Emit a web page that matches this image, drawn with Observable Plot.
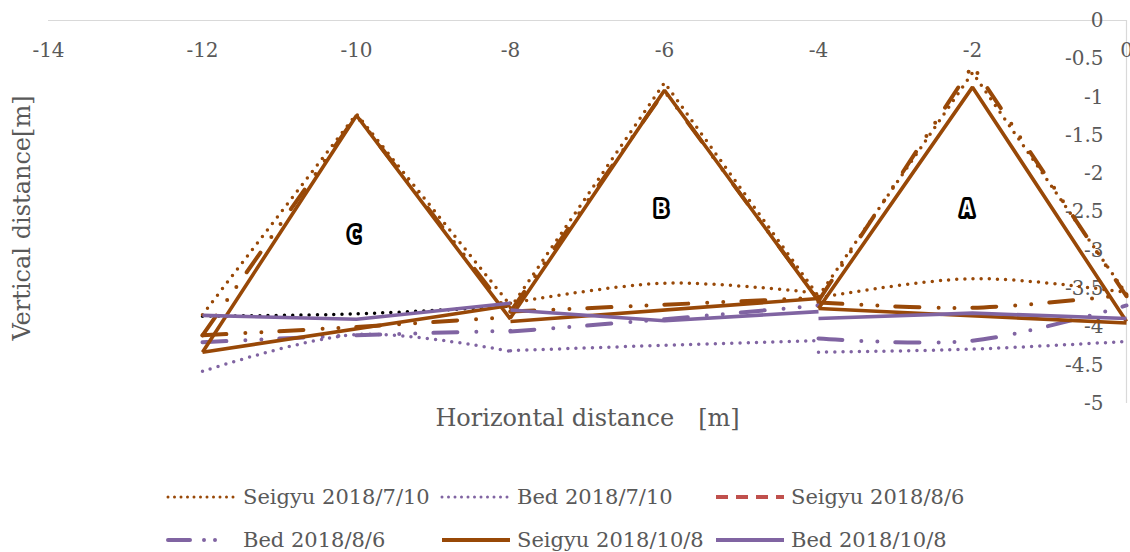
<!DOCTYPE html>
<html><head><meta charset="utf-8">
<script src="https://cdn.jsdelivr.net/npm/d3@7"></script>
<script src="https://cdn.jsdelivr.net/npm/@observablehq/plot@0.6"></script>
<style>
body{margin:0;background:#fff;}
#wrap{position:relative;width:1130px;height:552px;overflow:hidden;background:#fff;}
#chart{position:absolute;left:0;top:0;}
#legend{position:absolute;left:0;top:460px;}
</style></head><body><div id="wrap"><div id="chart"></div><div id="legend"></div></div>
<script>
// ---- tick labels ----
const xTicks = [-14, -12, -10, -8, -6, -4, -2, 0];
const yTicks = [0, -0.5, -1, -1.5, -2, -2.5, -3, -3.5, -4, -4.5, -5];

// ---- series names ----
const seriesNames = ["Seigyu 2018/7/10", "Bed 2018/7/10", "Seigyu 2018/8/6", "Bed 2018/8/6", "Seigyu 2018/10/8", "Bed 2018/10/8"];

// ---- ridge profiles (triangles), [x, y]; null separates segments ----
const seigyu0710Ridge = [[-12,-3.84],[-10,-1.22],[-8,-3.72],null,[-8,-3.75],[-6,-0.81],[-4,-3.6],null,[-4,-3.6],[-2,-0.68],[0,-3.57]];
const seigyu0806Ridge = [[-12,-4.11],[-10,-1.24],[-8,-3.85],null,[-8,-3.8],[-6,-0.92],[-4,-3.65],null,[-4,-3.66],[-2,-0.59],[0,-3.6]];
const seigyu1008Ridge = [[-12,-4.33],[-10,-1.24],[-8,-3.9],null,[-8,-3.88],[-6,-0.91],[-4,-3.66],null,[-4,-3.76],[-2,-0.87],[0,-3.93]];

// ---- floor profiles ----
const seigyu0710Floor = [[-8,-3.69],[-6,-3.43],[-4,-3.56],null,[-4,-3.62],[-2,-3.37],[0,-3.55]];
const seigyu0710FloorC = [[-12,-3.86],[-10,-3.83],[-8,-3.73]];
const seigyu0806Floor = [[-12,-4.11],[-10,-4.0],[-8,-3.87],null,[-8,-3.8],[-6,-3.71],[-4,-3.62],null,[-4,-3.68],[-2,-3.75],[0,-3.58]];
const seigyu1008Floor = [[-12,-4.33],[-8,-3.72],null,[-8,-3.93],[-4,-3.63],null,[-4,-3.76],[0,-3.95]];
const bed0710 = [[-12,-4.58],[-10,-4.1],[-8,-4.32],null,[-8,-4.31],[-6,-4.24],[-4,-4.18],null,[-4,-4.33],[-2,-4.29],[0,-4.19]];
const bed0806 = [[-12,-4.2],[-10,-4.11],[-8,-4.05],null,[-8,-4.06],[-6,-3.9],[-4,-3.72],null,[-4,-4.15],[-2,-4.18],[0,-3.72]];
const bed1008 = [[-12,-3.85],[-10,-3.9],[-8,-3.69],null,[-8,-3.78],[-6,-3.92],[-4,-3.8],null,[-4,-3.89],[-2,-3.82],[0,-3.89]];

// ---- section labels ----
const sectionLabels = ["C", "B", "A"];
const sectionX = [-10.03, -6.04, -2.07];
const sectionY = [-2.81, -2.47, -2.47];

const BROWN = "#984807", PURPLE = "#8064A2", BLACK = "#000000", RED = "#C0504D";
const DOT = "0,8.2", DASHDOTDOT = "24,19,0,16,0,18";

function rows(pts) {
  const out = []; let seg = 0;
  for (const p of pts) { if (p === null) { seg++; continue; } out.push({x: p[0], y: p[1], seg}); }
  return out;
}

const lineSpecs = [
  {pts: seigyu0710FloorC, stroke: BLACK, dash: DOT, w: 3.5, curve: "catmull-rom"},
  {pts: seigyu0710Ridge, stroke: BROWN, dash: DOT, w: 3.5, curve: "linear"},
  {pts: seigyu0710Floor, stroke: BROWN, dash: DOT, w: 3.5, curve: "catmull-rom"},
  {pts: bed0710, stroke: PURPLE, dash: DOT, w: 3.5, curve: "catmull-rom"},
  {pts: seigyu0806Ridge, stroke: BROWN, dash: DASHDOTDOT, w: 4, curve: "linear"},
  {pts: seigyu0806Floor, stroke: BROWN, dash: DASHDOTDOT, w: 4, curve: "catmull-rom"},
  {pts: bed0806, stroke: PURPLE, dash: DASHDOTDOT, w: 4, curve: "catmull-rom"},
  {pts: seigyu1008Ridge, stroke: BROWN, dash: null, w: 3.6, curve: "linear"},
  {pts: seigyu1008Floor, stroke: BROWN, dash: null, w: 3.6, curve: "linear"},
  {pts: bed1008, stroke: PURPLE, dash: null, w: 3.6, curve: "linear"}
];

const lineMarks = lineSpecs.map(s => Plot.line(rows(s.pts), {
  x: "x", y: "y", z: "seg", stroke: s.stroke, strokeWidth: s.w,
  strokeDasharray: s.dash || undefined, strokeLinecap: s.dash ? "round" : "butt",
  strokeLinejoin: "miter", curve: s.curve
}));

const TXT = "#595959";
const labelRows = sectionLabels.map((t, i) => ({t, x: sectionX[i], y: sectionY[i]}));

const chart = Plot.plot({
  width: 1130, height: 460,
  marginLeft: 48, marginRight: 4, marginTop: 20, marginBottom: 57,
  x: {domain: [-14, 0], axis: null},
  y: {domain: [-5, 0], axis: null},
  style: {fontFamily: "'DejaVu Serif', serif", background: "#fff", overflow: "visible"},
  marks: [
    Plot.ruleY([0], {stroke: "#d9d9d9", strokeWidth: 1}),
    Plot.ruleX([0], {stroke: "#d9d9d9", strokeWidth: 1.2}),
    Plot.text(xTicks, {x: d => d, y: 0, dy: 30, text: d => String(d), fontSize: 20, fill: TXT}),
    Plot.text(yTicks, {x: 0, y: d => d, dx: -23, textAnchor: "end", text: d => String(d), fontSize: 20, fill: TXT}),
    ...lineMarks,
    Plot.text(labelRows, {x: "x", y: "y", text: "t", fontSize: 21, fontWeight: "bold",
      fontFamily: "'DejaVu Sans Mono', monospace", fill: "white", stroke: "black", strokeWidth: 6,
      strokeLinejoin: "round", paintOrder: "stroke"}),
    Plot.text(["Horizontal distance\u3000[m]"], {frameAnchor: "bottom", dy: 22, fontSize: 24, fill: TXT}),
    Plot.text(["Vertical distance[m]"], {frameAnchor: "left", textAnchor: "middle", dx: -26, dy: 6, rotate: -90, fontSize: 24, fill: TXT})
  ]
});
document.getElementById("chart").appendChild(chart);

// ---- legend ----
const legendItems = [
  {name: seriesNames[0], stroke: BROWN, dash: "0,6.5", w: 3, cap: "round", row: 0, col: 0},
  {name: seriesNames[1], stroke: PURPLE, dash: "0,6.5", w: 3, cap: "round", row: 0, col: 1},
  {name: seriesNames[2], stroke: RED, dash: "12,8", w: 4, cap: "butt", row: 0, col: 2},
  {name: seriesNames[3], stroke: PURPLE, dash: "22,14,0,11,0,40", w: 4, cap: "round", row: 1, col: 0},
  {name: seriesNames[4], stroke: BROWN, dash: null, w: 4, cap: "butt", row: 1, col: 1},
  {name: seriesNames[5], stroke: PURPLE, dash: null, w: 4, cap: "butt", row: 1, col: 2}
];
const colX = [168, 442, 716];
const rowY = [37, 80];
const lg = d3.select("#legend").append("svg").attr("width", 1130).attr("height", 92);
legendItems.forEach(it => {
  const x0 = colX[it.col], y0 = rowY[it.row];
  lg.append("line").attr("x1", x0).attr("x2", x0 + 68).attr("y1", y0).attr("y2", y0)
    .attr("stroke", it.stroke).attr("stroke-width", it.w)
    .attr("stroke-dasharray", it.dash).attr("stroke-linecap", it.cap);
  lg.append("text").attr("x", x0 + 75).attr("y", y0).attr("dy", "0.35em")
    .attr("font-family", "'DejaVu Serif', serif").attr("font-size", 21).attr("fill", TXT)
    .text(it.name);
});
</script></body></html>
